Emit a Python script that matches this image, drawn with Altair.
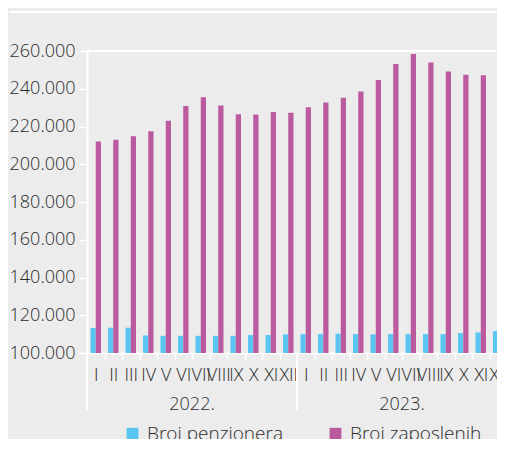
import altair as alt
import pandas as pd

months = ["I", "II", "III", "IV", "V", "VI", "VII", "VIII", "IX", "X", "XI", "XII"]
years = ["2022.", "2023."]
series = ["Broj penzionera", "Broj zaposlenih"]
penzioneri = [113200, 113400, 113400, 109300, 109100, 109100, 109100, 109100, 109100, 109500, 109500, 109900,
              110000, 110000, 110200, 110000, 109900, 110000, 110000, 110000, 110000, 110600, 110900, 111600]
zaposleni = [212000, 213000, 214800, 217500, 223000, 230900, 235500, 231100, 226500, 226400, 227700, 227300,
             230200, 232700, 235200, 238600, 244600, 253100, 258400, 253900, 249100, 247400, 247200, 246500]
y_ticks = [100000, 120000, 140000, 160000, 180000, 200000, 220000, 240000, 260000]

keys = [f"{y}-{m}" for y in years for m in months]
rows = []
for i, k in enumerate(keys):
    rows.append({"key": k, "series": series[0], "value": penzioneri[i]})
    rows.append({"key": k, "series": series[1], "value": zaposleni[i]})
df = pd.DataFrame(rows)

year_df = pd.DataFrame({"year": years, "mid": [f"{y}-VII" for y in years], "start": [f"{y}-I" for y in years]})

W, H = 420, 302
FONT = "Open Sans"
FW = 300
TXT = "#2b2b2b"
BLUE = "#5bc5f2"
MAG = "#bc5a9f"

xscale = alt.Scale(domain=keys, paddingInner=0, paddingOuter=0)
yscale = alt.Scale(domain=[100000, 260000], zero=False, nice=False)
yaxis = alt.Axis(values=y_ticks, labelExpr="replace(format(datum.value, ','), ',', '.')",
                 labelOverlap=False, grid=False, domainColor="white", domainWidth=2,
                 tickColor="white", tickSize=8, tickWidth=1.5, labelFontSize=18, labelFont=FONT,
                 labelFontWeight=FW, labelColor=TXT, labelPadding=4)

bars = alt.Chart(df).mark_bar().encode(
    x=alt.X("key:N", scale=xscale, sort=keys, title=None,
            axis=alt.Axis(labelExpr="split(datum.value, '-')[1]", labelAngle=0, labelOverlap=False,
                          labelBound=False, tickBand="extent", tickColor="white", tickSize=7, tickWidth=1.5,
                          domainColor="white", domainWidth=1.5, labelFontSize=18, labelFont=FONT,
                          labelFontWeight=FW, labelColor=TXT, labelPadding=6)),
    xOffset=alt.XOffset("series:N", sort=series, scale=alt.Scale(paddingInner=0, paddingOuter=0.667)),
    y=alt.Y("value:Q", scale=yscale, title=None, axis=yaxis),
    y2=alt.datum(100000),
    color=alt.Color("series:N", scale=alt.Scale(domain=series, range=[BLUE, MAG]),
                    legend=alt.Legend(title=None, orient="none", legendX=36, legendY=373, direction="horizontal",
                                      symbolType="square", symbolSize=140, symbolStrokeWidth=0,
                                      labelFontSize=19, labelFont=FONT, labelFontWeight=FW, labelColor=TXT,
                                      columnPadding=43, labelOffset=5)),
)

top_grid = alt.Chart(pd.DataFrame({"v": [260000]})).mark_rule(color="white", strokeWidth=2).encode(
    y=alt.Y("v:Q", scale=yscale, title=None, axis=yaxis))

top_line = alt.Chart(pd.DataFrame({"v": [0]})).mark_rule(color="white", strokeWidth=2).encode(
    x=alt.value(-78), x2=alt.value(W + 20), y=alt.value(-39))

dividers = alt.Chart(year_df).mark_rule(color="white", strokeWidth=2).encode(
    x=alt.X("start:N", bandPosition=0), y=alt.value(H), y2=alt.value(H + 58))

year_text = alt.Chart(year_df).mark_text(font=FONT, fontSize=18, fontWeight=FW, color=TXT,
                                         baseline="middle").encode(
    x=alt.X("mid:N", bandPosition=0), y=alt.value(H + 52), text="year:N")

chart = alt.layer(bars, top_grid, top_line, dividers, year_text).properties(
    width=W, height=H,
    autosize=alt.AutoSizeParams(type="none"),
    padding={"left": 79, "top": 43, "right": -10, "bottom": 86},
    background="#ececec",
).configure_view(stroke=None)

chart.save("out.html", embed_options={"renderer": "svg", "actions": False})
